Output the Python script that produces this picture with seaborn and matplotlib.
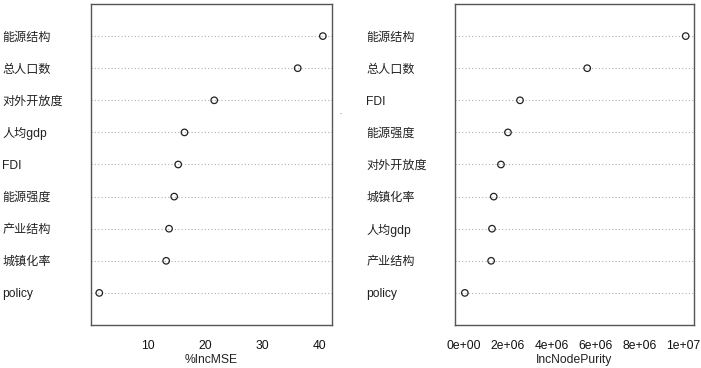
import matplotlib
matplotlib.use("Agg")
import matplotlib.pyplot as plt
import seaborn as sns
import pandas as pd

# variable names, listed bottom -> top as drawn by varImpPlot
mse_vars = ["policy", "城镇化率", "产业结构", "能源强度", "FDI", "人均gdp", "对外开放度", "总人口数", "能源结构"]
mse_vals = [1.5, 13.2, 13.7, 14.6, 15.3, 16.4, 21.6, 36.2, 40.6]

purity_vars = ["policy", "产业结构", "人均gdp", "城镇化率", "对外开放度", "能源强度", "FDI", "总人口数", "能源结构"]
purity_vals = [0.03e6, 1.23e6, 1.27e6, 1.35e6, 1.68e6, 2.0e6, 2.55e6, 5.62e6, 10.12e6]

sns.set_style("white")
plt.rcParams["font.family"] = ["Liberation Sans", "Noto Sans CJK SC", "DejaVu Sans"]

fig = plt.figure(figsize=(7.01, 3.68), dpi=100)
W, H = 701, 368
ax1 = fig.add_axes([91 / W, 1 - 325 / H, (332 - 91) / W, (325 - 4) / H])
ax2 = fig.add_axes([455 / W, 1 - 325 / H, (694 - 455) / W, (325 - 4) / H])


def dotchart(ax, names, vals, xlabel, xticks, xticklabels, xlim):
    df = pd.DataFrame({"var": names, "val": vals, "pos": range(len(names))})
    for p in df["pos"]:
        ax.axhline(p, color="#b0b0b0", lw=0.8, ls=(0, (1, 2)), zorder=1)
    sns.scatterplot(data=df, x="val", y="pos", ax=ax, s=22, marker="o",
                    facecolor="none", edgecolor="#222222", linewidth=0.9, zorder=3)
    ax.set_ylim(-1, len(names))
    ax.set_xlim(*xlim)
    ax.set_yticks(df["pos"])
    ax.set_yticklabels(df["var"], ha="left", fontsize=8.7, color="#222222")
    ax.tick_params(axis="y", length=0, pad=64)
    ax.set_xticks(xticks)
    ax.set_xticklabels(xticklabels, fontsize=8.7, color="#111111")
    ax.tick_params(axis="x", length=4, width=0.8, direction="out", color="#444444", pad=7)
    ax.set_xlabel(xlabel, fontsize=8.7, color="#222222", labelpad=1.5)
    ax.set_ylabel("")
    for s in ax.spines.values():
        s.set_color("#555555")
        s.set_linewidth(1.0)
        s.set_visible(True)


dotchart(ax1, mse_vars, mse_vals, "%IncMSE", [10, 20, 30, 40],
         ["10", "20", "30", "40"], (0.05, 42.2))
dotchart(ax2, purity_vars, purity_vals, "IncNodePurity",
         [0, 2e6, 4e6, 6e6, 8e6, 1e7],
         ["0e+00", "2e+06", "4e+06", "6e+06", "8e+06", "1e+07"],
         (-0.42e6, 10.5e6))

fig.text(340 / W, 1 - 114 / H, ".", fontsize=5, color="#444444", ha="center")

fig.savefig("out.png", dpi=100)
